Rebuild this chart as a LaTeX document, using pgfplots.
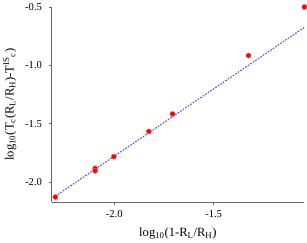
\documentclass[border=0pt]{standalone}
\usepackage{fontspec}
\setmainfont{Liberation Serif}
\usepackage{pgfplots}
\pgfplotsset{compat=1.18}
\begin{document}
\begin{tikzpicture}
\begin{axis}[
  scale only axis,
  width=251pt, height=194pt,
  xmin=-2.315, xmax=-1.045,
  ymin=-2.172, ymax=-0.5,
  axis x line=bottom, axis y line=left,
  axis line style={-, gray!80!black, line width=0.6pt},
  tick style={gray!80!black, line width=0.6pt},
  tick align=outside,
  major tick length=3pt,
  xtick={-2.0,-1.5}, xticklabels={-2.0,-1.5},
  ytick={-2.0,-1.5,-1.0,-0.5}, yticklabels={-2.0,-1.5,-1.0,-0.5},
  tick label style={font=\fontsize{10.5}{12}\selectfont},
  xticklabel style={yshift=-2pt},
  yticklabel style={xshift=-3pt},
  xlabel={log\textsubscript{10}(1-R\textsubscript{L}/R\textsubscript{H})},
  ylabel={log\textsubscript{10}(T\textsubscript{c}(R\textsubscript{L}/R\textsubscript{H})-T\textsuperscript{IS}\textsubscript{c})},
  label style={font=\fontsize{12.5}{14}\selectfont},
  xlabel style={yshift=-3pt},
  ylabel style={yshift=2pt},
  clip=false,
]
\addplot[blue!75!white, dash pattern=on 1.6pt off 1.4pt, line width=1pt] coordinates {(-2.296,-2.12) (-1.044,-0.675)};
\addplot[only marks, mark=*, mark size=2.6pt, draw=red!55!white, fill=red] coordinates {
(-2.296,-2.127)
(-2.096,-1.882)
(-2.096,-1.903)
(-2.002,-1.782)
(-1.826,-1.566)
(-1.707,-1.416)
(-1.325,-0.916)
(-1.044,-0.5)
};
\end{axis}
\end{tikzpicture}
\end{document}
